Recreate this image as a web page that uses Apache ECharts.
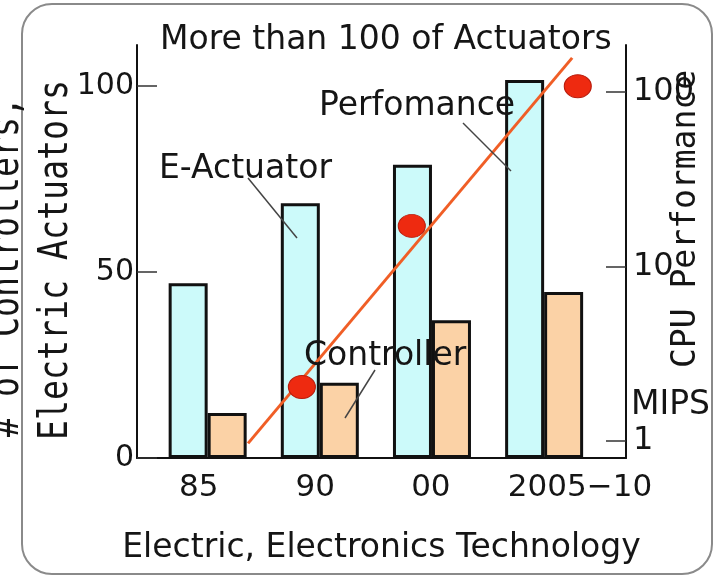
<!DOCTYPE html>
<html>
<head>
<meta charset="utf-8">
<script src="https://cdn.jsdelivr.net/npm/echarts@6/dist/echarts.min.js"></script>
<style>
  html, body { margin: 0; padding: 0; background: #fff; }
  #chart { width: 717px; height: 577px; }
</style>
</head>
<body>
<div id="chart"></div>
<script>
/* Actuators / controllers per era, with CPU performance (MIPS, log scale) */
var CATEGORIES = ["85", "90", "00", "2005\u221210"];
var CAT_POS = [0, 1, 2, 3];                    // group centres on the x scale
var LABEL_POS = [-0.08, 0.96, 1.99, 3.32];     // where the tick labels sit
var E_ACTUATOR = [47, 68.5, 78.8, 101.6];
var CONTROLLER = [12.1, 20.2, 37, 44.6];
var PERF_X = [0.84, 1.82, 3.30];
var PERF_MIPS = [2.04, 17.1, 108];
var TREND_X = [0.36, 3.25];
var TREND_MIPS = [0.97, 157];
var LEFT_TICKS = [0, 50, 100];
var RIGHT_TICKS = [1, 10, 100];

var SANS = '"DejaVu Sans", sans-serif';
var MONO = '"DejaVu Sans Mono", monospace';
var INK = "#151515";

function pairs(xs, ys) { return xs.map(function (x, i) { return [x, ys[i]]; }); }

// free text; rotated ones are centred on their anchor
function txt(text, x, y, size, family, rot, sx) {
  return {
    type: "text", x: x, y: y, z: 20,
    rotation: rot || 0, scaleX: sx || 1,
    style: {
      text: text, font: size + "px " + family, fill: INK,
      textAlign: rot ? "center" : "left", textVerticalAlign: "middle"
    }
  };
}
function leader(x1, y1, x2, y2) {
  return { type: "line", z: 19, shape: { x1: x1, y1: y1, x2: x2, y2: y2 }, style: { stroke: "#444", lineWidth: 1.5 } };
}

var chart = echarts.init(document.getElementById("chart"), null, { renderer: "canvas" });

chart.setOption({
  animation: false,
  backgroundColor: "#fff",
  title: {
    text: "More than 100 of Actuators", left: 160, top: 24, padding: 0,
    textStyle: { fontFamily: SANS, fontSize: 33, fontWeight: "normal", color: INK }
  },
  grid: { left: 137, right: 91, top: 45, bottom: 119, containLabel: false, outerBoundsMode: "none" },
  xAxis: {
    type: "value", min: -0.63, max: 3.73,
    name: "Electric, Electronics Technology", nameLocation: "middle", nameGap: 74,
    nameTextStyle: { fontFamily: SANS, fontSize: 33, color: INK },
    axisLine: { show: true, onZero: false, lineStyle: { color: "#111", width: 2 } },
    axisTick: { show: false },
    splitLine: { show: false },
    axisLabel: {
      customValues: LABEL_POS, margin: 14,
      fontFamily: SANS, fontSize: 31, color: INK,
      formatter: function (v) {
        var i = LABEL_POS.indexOf(v);
        return i >= 0 ? CATEGORIES[i] : "";
      }
    }
  },
  yAxis: [{
    type: "value", min: 0, max: 111, position: "left",
    axisLine: { show: true, onZero: false, lineStyle: { color: "#111", width: 2 } },
    axisTick: { show: true, inside: true, length: 20, customValues: LEFT_TICKS, lineStyle: { color: "#333", width: 1.5 } },
    axisLabel: { customValues: LEFT_TICKS, margin: 3, fontFamily: SANS, fontSize: 30, color: INK },
    splitLine: { show: false }
  }, {
    type: "log", logBase: 10, min: 0.8, max: 186, position: "right",
    axisLine: { show: true, onZero: false, lineStyle: { color: "#111", width: 2 } },
    axisTick: { show: true, inside: true, length: 20, customValues: RIGHT_TICKS, lineStyle: { color: "#333", width: 1.5 } },
    minorTick: { show: false },
    axisLabel: { customValues: RIGHT_TICKS, margin: 7, fontFamily: SANS, fontSize: 32, color: INK },
    splitLine: { show: false }
  }],
  series: [{
    name: "E-Actuator", type: "bar", data: pairs(CAT_POS, E_ACTUATOR),
    barWidth: 39, barGap: "0%",
    itemStyle: { color: "#ccfafa", borderColor: "#111", borderWidth: 3 }
  }, {
    name: "Controller", type: "bar", data: pairs(CAT_POS, CONTROLLER),
    barWidth: 39, barGap: "0%",
    itemStyle: { color: "#fbd2a6", borderColor: "#111", borderWidth: 3 }
  }, {
    name: "Perfomance", type: "line", yAxisIndex: 1, z: 5,
    data: pairs(TREND_X, TREND_MIPS), symbol: "none",
    lineStyle: { color: "#f05e26", width: 3 }
  }, {
    name: "CPU", type: "scatter", yAxisIndex: 1, z: 6,
    data: pairs(PERF_X, PERF_MIPS), symbol: "circle", symbolSize: [27, 23],
    itemStyle: { color: "#ee2a10", borderColor: "#b81c0c", borderWidth: 1, opacity: 1 }
  }],
  graphic: [
    { type: "rect", z: -10, shape: { x: 22, y: 4, width: 690, height: 570, r: 30 },
      style: { fill: "none", stroke: "#8a8a8a", lineWidth: 2 } },
    // axis titles
    txt("# of Controllers,", 8, 267, 40, MONO, Math.PI / 2, 0.83),
    txt("Electric Actuators", 57, 260, 40, MONO, Math.PI / 2, 0.83),
    txt("CPU Performance", 686, 219, 33, MONO, Math.PI / 2, 1),
    txt("MIPS", 631, 405, 33, SANS),
    // annotations
    txt("E-Actuator", 159, 169, 33, SANS),
    txt("Perfomance", 319, 106, 33, SANS),
    txt("Controller", 304, 356, 33, SANS),
    leader(248, 178, 297, 238),
    leader(463, 123, 511, 171),
    leader(375, 370, 345, 418)
  ]
});
</script>
</body>
</html>
